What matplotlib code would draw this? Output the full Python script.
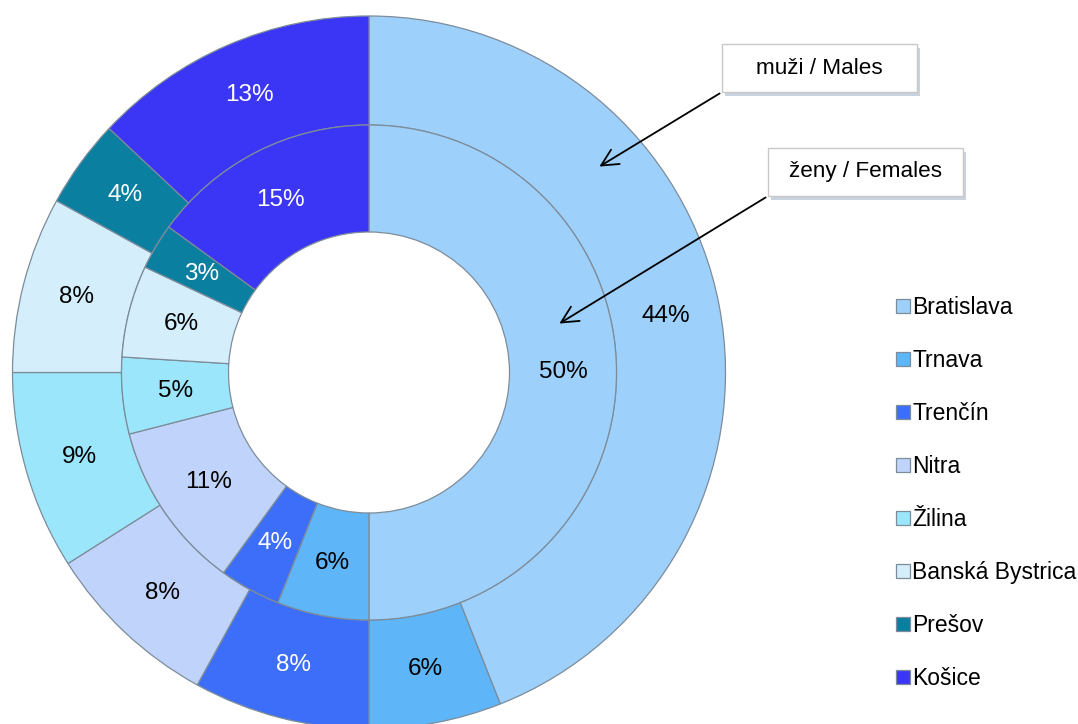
import matplotlib
matplotlib.use("Agg")
import matplotlib.pyplot as plt
from matplotlib.patches import Rectangle

plt.rcParams['font.family'] = ['Liberation Sans', 'DejaVu Sans']

regions = ["Bratislava", "Trnava", "Trenčín", "Nitra", "Žilina",
           "Banská Bystrica", "Prešov", "Košice"]
males = [44, 6, 8, 8, 9, 8, 4, 13]
females = [50, 6, 4, 11, 5, 6, 3, 15]
colors = ["#9DD0FA", "#5EB5F8", "#3D6EFA", "#C0D3FA", "#9BE6FA",
          "#D5EEFC", "#0A7FA0", "#3B36F5"]
label_colors = ["black", "black", "white", "black", "black",
                "black", "white", "white"]

W, H = 1078, 724
fig = plt.figure(figsize=(W / 100, H / 100), dpi=100)
ax = fig.add_axes([0, 0, 1, 1])
ax.set_xlim(0, W)
ax.set_ylim(0, H)
ax.set_aspect('equal')
ax.axis('off')

def Y(y):
    return H - y

cx, cy = 369, Y(372.5)
r_out, r_mid, r_in = 356.5, 247.5, 140.5

wp = dict(edgecolor="#7d8c9a", linewidth=0.9)
w_out, t_out = ax.pie(males, radius=r_out, center=(cx, cy), colors=colors,
                      startangle=90, counterclock=False,
                      labels=[f"{v}%" for v in males],
                      labeldistance=(r_out + r_mid) / 2 / r_out,
                      wedgeprops=dict(width=r_out - r_mid, **wp),
                      textprops=dict(fontsize=17.5, ha='center', va='center'))
w_in, t_in = ax.pie(females, radius=r_mid, center=(cx, cy), colors=colors,
                    startangle=90, counterclock=False,
                    labels=[f"{v}%" for v in females],
                    labeldistance=(r_mid + r_in) / 2 / r_mid,
                    wedgeprops=dict(width=r_mid - r_in, **wp),
                    textprops=dict(fontsize=17.5, ha='center', va='center'))
for texts in (t_out, t_in):
    for t, c in zip(texts, label_colors):
        t.set_color(c)
ax.set_xlim(0, W)
ax.set_ylim(0, H)

# callout boxes
def callout(x0, y0, x1, y1, text, tip):
    ax.add_patch(Rectangle((x0 + 3, Y(y1) - 4), x1 - x0, y1 - y0,
                           facecolor="#c9d3de", edgecolor="none", zorder=4))
    ax.add_patch(Rectangle((x0, Y(y1)), x1 - x0, y1 - y0,
                           facecolor="white", edgecolor="#c8c8c8",
                           linewidth=1.0, zorder=5))
    ax.text((x0 + x1) / 2, Y((y0 + y1) / 2), text, fontsize=16.2,
            ha='center', va='center', zorder=6)
    ax.annotate("", xy=(tip[0], Y(tip[1])), xytext=(x0, Y(y1)),
                arrowprops=dict(arrowstyle="->,head_length=1.2,head_width=0.6",
                                color="black", lw=1.3), zorder=6)

callout(722, 44, 917, 92, "muži / Males", (597, 168))
callout(768, 148, 963, 196, "ženy / Females", (557, 325))

leg = ax.legend(w_out, regions, loc='upper left',
                bbox_to_anchor=(896 / W, 1 - 296 / H), frameon=False,
                fontsize=16.5, handlelength=0.6, handleheight=0.6,
                handletextpad=0.1, labelspacing=1.31, borderpad=0,
                borderaxespad=0)

fig.savefig("out.png", dpi=100)
